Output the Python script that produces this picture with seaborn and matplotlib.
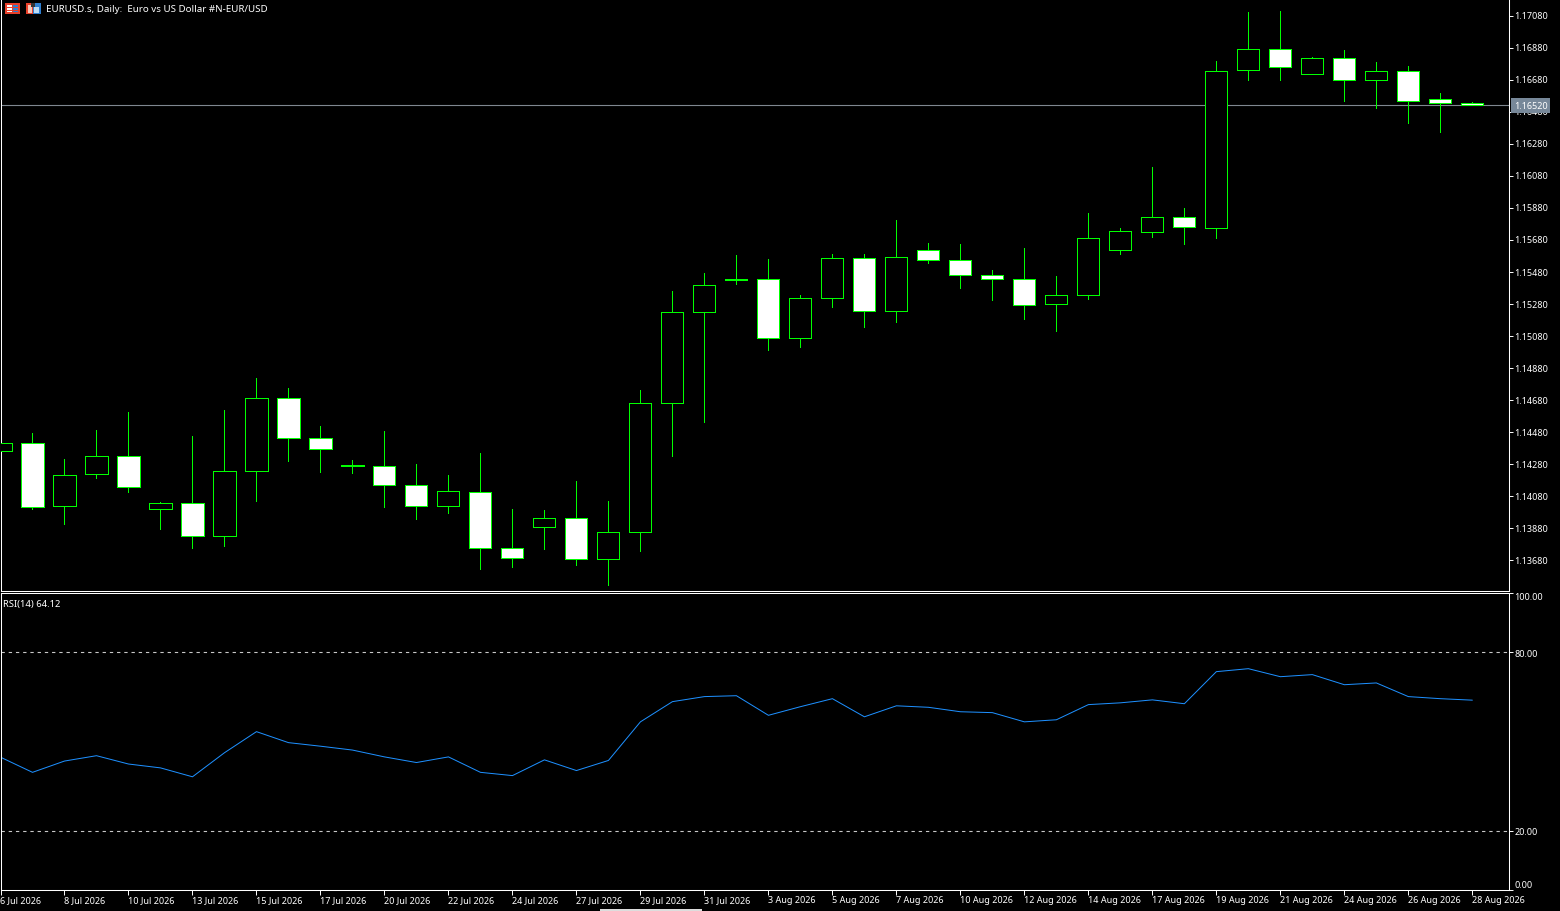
import numpy as np
import pandas as pd
import seaborn as sns
import matplotlib.pyplot as plt
from matplotlib.patches import Rectangle
from matplotlib.transforms import ScaledTranslation

# candles
open_price = [1.14361, 1.14411, 1.14018, 1.14218, 1.14330, 1.13999, 1.14036, 1.13830, 1.14236, 1.14693, 1.14443, 1.14268,
              1.14268, 1.14149, 1.14018, 1.14105, 1.13755, 1.13886, 1.13943, 1.13686, 1.13855, 1.14661, 1.15230, 1.15430,
              1.15436, 1.15068, 1.15318, 1.15568, 1.15236, 1.15618, 1.15555, 1.15461, 1.15436, 1.15280, 1.15336, 1.15618,
              1.15730, 1.15824, 1.15755, 1.16743, 1.16874, 1.16718, 1.16818, 1.16680, 1.16736, 1.16558, 1.16538]
high_price = [1.14411, 1.14474, 1.14311, 1.14493, 1.14605, 1.14043, 1.14455, 1.14618, 1.14818, 1.14755, 1.14518, 1.14305,
              1.14486, 1.14280, 1.14211, 1.14349, 1.13999, 1.13993, 1.14174, 1.14049, 1.14743, 1.15361, 1.15474, 1.15586,
              1.15561, 1.15336, 1.15593, 1.15593, 1.15805, 1.15661, 1.15655, 1.15493, 1.15630, 1.15455, 1.15849, 1.15755,
              1.16136, 1.15880, 1.16799, 1.17105, 1.17111, 1.16824, 1.16868, 1.16793, 1.16768, 1.16599, 1.16543]
low_price = [1.14361, 1.13999, 1.13905, 1.14193, 1.14105, 1.13874, 1.13755, 1.13768, 1.14049, 1.14299, 1.14230, 1.14224,
             1.14011, 1.13936, 1.13974, 1.13624, 1.13636, 1.13749, 1.13649, 1.13524, 1.13736, 1.14330, 1.14543, 1.15405,
             1.14993, 1.15011, 1.15261, 1.15136, 1.15168, 1.15536, 1.15380, 1.15305, 1.15186, 1.15111, 1.15311, 1.15593,
             1.15699, 1.15655, 1.15693, 1.16680, 1.16680, 1.16718, 1.16549, 1.16505, 1.16411, 1.16355, 1.16520]
close_price = [1.14411, 1.14011, 1.14211, 1.14330, 1.14136, 1.14036, 1.13830, 1.14236, 1.14693, 1.14443, 1.14374, 1.14274,
               1.14149, 1.14018, 1.14111, 1.13755, 1.13693, 1.13943, 1.13686, 1.13855, 1.14661, 1.15230, 1.15399, 1.15436,
               1.15068, 1.15318, 1.15568, 1.15236, 1.15574, 1.15555, 1.15461, 1.15436, 1.15274, 1.15336, 1.15693, 1.15736,
               1.15824, 1.15761, 1.16736, 1.16874, 1.16761, 1.16818, 1.16680, 1.16736, 1.16549, 1.16533, 1.16520]
rsi_values = [44.7, 39.6, 43.4, 45.2, 42.4, 41.1, 38.1, 46.2, 53.3, 49.6, 48.4, 47.1, 44.8, 42.9, 44.8, 39.6,
              38.5, 43.8, 40.2, 43.6, 56.6, 63.4, 65.1, 65.4, 58.8, 61.7, 64.4, 58.3, 62.0, 61.5, 60.0, 59.7,
              56.6, 57.3, 62.4, 63.0, 64.0, 62.7, 73.5, 74.5, 71.8, 72.5, 69.1, 69.7, 65.1, 64.4, 63.9]

date_labels = ['6 Jul 2026', '8 Jul 2026', '10 Jul 2026', '13 Jul 2026', '15 Jul 2026', '17 Jul 2026',
               '20 Jul 2026', '22 Jul 2026', '24 Jul 2026', '27 Jul 2026', '29 Jul 2026', '31 Jul 2026',
               '3 Aug 2026', '5 Aug 2026', '7 Aug 2026', '10 Aug 2026', '12 Aug 2026', '14 Aug 2026',
               '17 Aug 2026', '19 Aug 2026', '21 Aug 2026', '24 Aug 2026', '26 Aug 2026', '28 Aug 2026']
price_ticks = [1.13680, 1.13880, 1.14080, 1.14280, 1.14480, 1.14680, 1.14880, 1.15080, 1.15280,
               1.15480, 1.15680, 1.15880, 1.16080, 1.16280, 1.16480, 1.16680, 1.16880, 1.17080]
rsi_ticks = [0, 20, 80, 100]
last_price = 1.16520

df = pd.DataFrame({'open': open_price, 'high': high_price, 'low': low_price,
                   'close': close_price, 'rsi': rsi_values})
df['idx'] = df.index
df['top'] = df[['open', 'close']].max(axis=1)
df['bottom'] = df[['open', 'close']].min(axis=1)
df['body'] = df['top'] - df['bottom']
# down days are white here, up days stay black
df['fill'] = np.where(df['close'] < df['open'], 'white', 'black')

W, H = 1560, 912
sns.set_theme(style='dark', rc={'figure.facecolor': 'black', 'axes.facecolor': 'black',
                                'axes.edgecolor': 'white', 'axes.linewidth': 0.75,
                                'xtick.color': 'white', 'ytick.color': 'white',
                                'text.color': 'white', 'xtick.bottom': True, 'ytick.right': True})
plt.rcParams['font.family'] = ['Noto Sans', 'DejaVu Sans']
font_size = 6.5

fig = plt.figure(figsize=(W / 100, H / 100), dpi=100)
ax = fig.add_axes([0.5 / W, (H - 591.5) / H, 1508 / W, 591.5 / H])
ax2 = fig.add_axes([0.5 / W, (H - 890.5) / H, 1508 / W, 297 / H], sharex=ax)

# candles
ax.vlines(df['idx'], df['low'], df['high'], color='#00ff00', lw=0.65, zorder=2, antialiased=False)
ax.bar(df['idx'], df['body'], bottom=df['bottom'], width=0.69, color=df['fill'],
       edgecolor='#00ff00', linewidth=0.65, zorder=3, antialiased=False)
ax.axhline(last_price, color='#7f8790', lw=0.8, zorder=1)

ax.set_xlim(0.03, 47.13)
ax.set_ylim(1.13491, 1.17185)
ax.spines['top'].set_visible(False)
ax.yaxis.tick_right()
ax.set_yticks(price_ticks)
ax.set_yticklabels([f'{p:.5f}' for p in price_ticks], fontsize=font_size)
ax.tick_params(axis='y', length=3, width=0.7, pad=1.2, colors='white')
ax.tick_params(axis='x', bottom=False, labelbottom=False)
ax.grid(False)
up_one_px = ScaledTranslation(0, 1 / 100, fig.dpi_scale_trans)
for lab in ax.get_yticklabels():
    lab.set_transform(lab.get_transform() + up_one_px)

# current price tag on the scale
ax.text(1.0037, last_price, f'{last_price:.5f}', transform=ax.get_yaxis_transform(), fontsize=font_size,
        va='center', ha='left', color='white', zorder=6, clip_on=False,
        bbox=dict(facecolor='#778899', edgecolor='none', boxstyle='square,pad=0.3'))

# RSI panel
sns.lineplot(data=df, x='idx', y='rsi', ax=ax2, color='#1e90ff', lw=0.72, errorbar=None)
for level in [20, 80]:
    ax2.axhline(level, color='#c8c8c8', lw=0.8, dashes=(3, 3.5))
ax2.set_ylim(0.15, 100.15)
ax2.set_xlabel('')
ax2.set_ylabel('')
ax2.yaxis.tick_right()
ax2.set_yticks([0.15, 20, 80, 100.15])
# the 100.00 label sits below its tick, so it goes in by hand
ax2.set_yticklabels([f'{v:.2f}' for v in rsi_ticks[:3]] + [''], fontsize=font_size)
ax2.get_yticklabels()[0].set_va('bottom')
ax2.tick_params(axis='y', length=3, width=0.7, pad=1.2, colors='white')
ax2.text(1.0037, 1, f'{rsi_ticks[3]:.2f}', transform=ax2.transAxes, fontsize=font_size, va='center', ha='left',
         color='white', clip_on=False).set_y(1 - 4 / 297)
ax2.set_xticks(df['idx'][::2])
ax2.set_xticklabels(date_labels, fontsize=font_size, ha='left')
ax2.tick_params(axis='x', length=3.5, width=0.7, pad=0.2, colors='white')
ax2.grid(False)

fig.text(46 / W, 1 - 10 / H, 'EURUSD.s, Daily:  Euro vs US Dollar #N-EUR/USD', fontsize=7.0, va='center')
fig.text(3 / W, 1 - 604.5 / H, 'RSI(14) 64.12', fontsize=font_size + 0.3, va='center')


def px_rect(x, y, w, h, color):
    fig.add_artist(Rectangle((x / W, 1 - (y + h) / H), w / W, h / H, transform=fig.transFigure,
                             facecolor=color, edgecolor='none'))


# the two small icons in the corner
px_rect(5, 4, 15, 11, '#e8402a')
px_rect(7, 6, 5, 7, 'white')
px_rect(13, 6, 5, 7, '#2f7fd0')
px_rect(7, 8, 11, 1, '#e8402a')
px_rect(7, 11, 11, 1, '#e8402a')
px_rect(26, 4, 7, 11, '#e8402a')
px_rect(28, 6, 4, 8, '#f7c8b8')
px_rect(33, 4, 8, 11, '#2f7fd0')
px_rect(34, 8, 5, 6, '#bcdcf5')
px_rect(31, 4, 4, 4, '#333333')
# tab strip at the bottom edge
px_rect(600, 910, 102, 2, '#dddddd')

plt.savefig('out.png', dpi=100, facecolor='black')
